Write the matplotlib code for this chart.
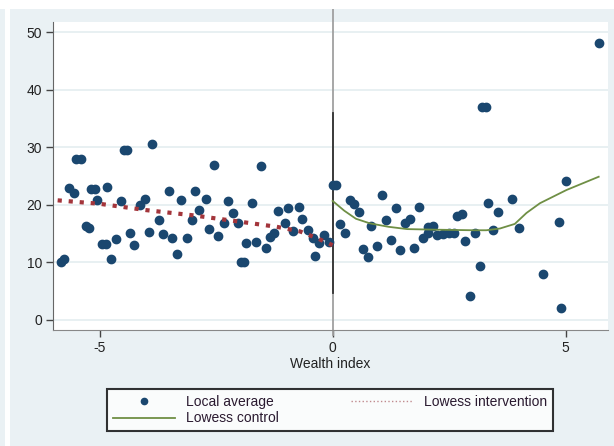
import matplotlib
matplotlib.use("Agg")
import matplotlib.pyplot as plt
from matplotlib.patches import Rectangle

plt.rcParams['font.family'] = ['Liberation Sans', 'DejaVu Sans']
plt.rcParams['axes.unicode_minus'] = False

# local averages (wealth index, value)
avg_x = [-5.83, -5.76, -5.66, -5.55, -5.50, -5.40, -5.30, -5.23, -5.18, -5.10,
         -5.05, -4.95, -4.87, -4.84, -4.76, -4.65, -4.54, -4.48, -4.42, -4.34,
         -4.26, -4.13, -4.02, -3.93, -3.87, -3.72, -3.65, -3.52, -3.45, -3.34,
         -3.25, -3.12, -3.02, -2.95, -2.86, -2.72, -2.65, -2.54, -2.45, -2.34,
         -2.25, -2.14, -2.04, -1.97, -1.90, -1.86, -1.73, -1.64, -1.53, -1.43,
         -1.35, -1.25, -1.18, -1.03, -0.96, -0.85, -0.73, -0.65, -0.53, -0.42,
         -0.37, -0.30, -0.18, -0.08,
         0.00, 0.08, 0.15, 0.26, 0.37, 0.47, 0.56, 0.65, 0.76, 0.83,
         0.95, 1.05, 1.15, 1.26, 1.37, 1.45, 1.55, 1.66, 1.74, 1.85,
         1.94, 2.04, 2.04, 2.15, 2.23, 2.37, 2.50, 2.60, 2.66, 2.77,
         2.84, 2.95, 3.05, 3.16, 3.20, 3.30, 3.34, 3.45, 3.55, 3.86,
         3.99, 4.52, 4.85, 4.90, 5.00, 5.71]
avg_y = [10.1, 10.6, 23.0, 22.1, 28.0, 28.0, 16.3, 16.0, 22.8, 22.8,
         20.9, 13.2, 13.2, 23.2, 10.6, 14.0, 20.7, 29.6, 29.6, 15.1,
         13.0, 20.0, 21.0, 15.3, 30.6, 17.4, 15.0, 22.5, 14.2, 11.5,
         20.8, 14.2, 17.3, 22.5, 19.2, 21.0, 15.8, 27.0, 14.6, 16.8,
         20.6, 18.6, 16.8, 10.1, 10.1, 13.4, 20.4, 13.6, 26.8, 12.6,
         14.4, 15.1, 18.9, 16.8, 19.5, 15.5, 19.6, 17.6, 15.7, 14.2,
         11.1, 13.3, 14.8, 13.5,
         23.4, 23.4, 16.7, 15.1, 20.9, 20.2, 18.7, 12.4, 11.0, 16.4,
         12.9, 21.7, 17.4, 13.9, 19.4, 12.1, 16.9, 17.6, 12.5, 19.6,
         14.2, 16.2, 15.2, 16.3, 14.8, 14.9, 15.1, 15.1, 18.0, 18.5,
         13.7, 4.1, 15.1, 9.4, 37.0, 37.0, 20.4, 15.7, 18.7, 21.0,
         16.0, 8.0, 17.1, 2.0, 24.1, 48.1]

# lowess fits
int_x = [-5.9, -5.0, -4.0, -3.0, -2.0, -1.2, -0.7, -0.3, 0.0]
int_y = [20.8, 20.2, 19.1, 18.2, 17.1, 16.2, 15.4, 14.1, 13.0]
ctl_x = [0.0, 0.25, 0.5, 0.8, 1.2, 1.6, 2.2, 3.0, 3.3, 3.59, 3.91, 4.16, 4.45, 5.02, 5.71]
ctl_y = [20.7, 19.0, 17.6, 16.8, 16.2, 15.8, 15.7, 15.6, 15.6, 15.9, 16.7, 18.6, 20.3, 22.6, 24.9]

W, H = 614, 446
bg = '#eaf1f4'
fig = plt.figure(figsize=(W / 100, H / 100), dpi=100, facecolor=bg)
fig.patches.append(Rectangle((0, 1 - 9 / H), 1, 9 / H, transform=fig.transFigure,
                             facecolor='white', edgecolor='none', zorder=0))
fig.patches.append(Rectangle((5 / W, 0), 5 / W, 1, transform=fig.transFigure,
                             facecolor='white', edgecolor='none', zorder=0))

ax = fig.add_axes([53 / W, 1 - 330 / H, (608 - 53) / W, (330 - 22) / H])
ax.set_facecolor('white')
ax.set_xlim(-6.0, 5.91)
ax.set_ylim(-1.74, 51.8)

ax.set_yticks([0, 10, 20, 30, 40, 50])
ax.set_xticks([-5, 0, 5])
ax.yaxis.grid(True, color='#e4eef0', lw=1.2)
ax.set_axisbelow(True)
for s in ['top', 'right']:
    ax.spines[s].set_visible(False)
ax.spines['left'].set_color('#666666')
ax.spines['bottom'].set_color('#888888')
ax.tick_params(axis='both', length=5, width=1, color='#444444',
               labelsize=10, labelcolor='#222222', pad=3)

# reference line at threshold
ax.plot([0, 0], [-2.6, 54.1], color='#a0a0a0', lw=1.3, clip_on=False, zorder=1)
ax.plot([0, 0], [4.7, 36.0], color='#333333', lw=1.3, zorder=2)

sc, = ax.plot(avg_x, avg_y, 'o', color='#1a476f', ms=6, mec='#1a476f',
              label='Local average', zorder=3)
li, = ax.plot(int_x, int_y, ':', color='#a3353b', lw=3,
              label='Lowess intervention', zorder=4)
lc, = ax.plot(ctl_x, ctl_y, '-', color='#6f8f45', lw=1.3,
              label='Lowess control', zorder=4)

ax.set_xlabel('Wealth index', fontsize=10, color='#222222', labelpad=1)

leg_li = plt.Line2D([], [], ls=':', color='#c08a8e', lw=1)
leg = fig.legend([sc, lc, leg_li], ['Local average', 'Lowess control', 'Lowess intervention'],
                 ncol=2, loc='lower left', mode='expand',
                 bbox_to_anchor=(107 / W, 1 - 431 / H, (553 - 107) / W, 52 / H),
                 frameon=True, fancybox=False, edgecolor='black', facecolor='white',
                 handlelength=4.5, fontsize=10, labelspacing=0.2, markerscale=0.75,
                 borderaxespad=0, borderpad=0.4, columnspacing=2)
leg.get_frame().set_linewidth(1.5)
for t in leg.get_texts():
    t.set_color('#2a1a30')

fig.savefig('out.png', dpi=100, facecolor=bg)
